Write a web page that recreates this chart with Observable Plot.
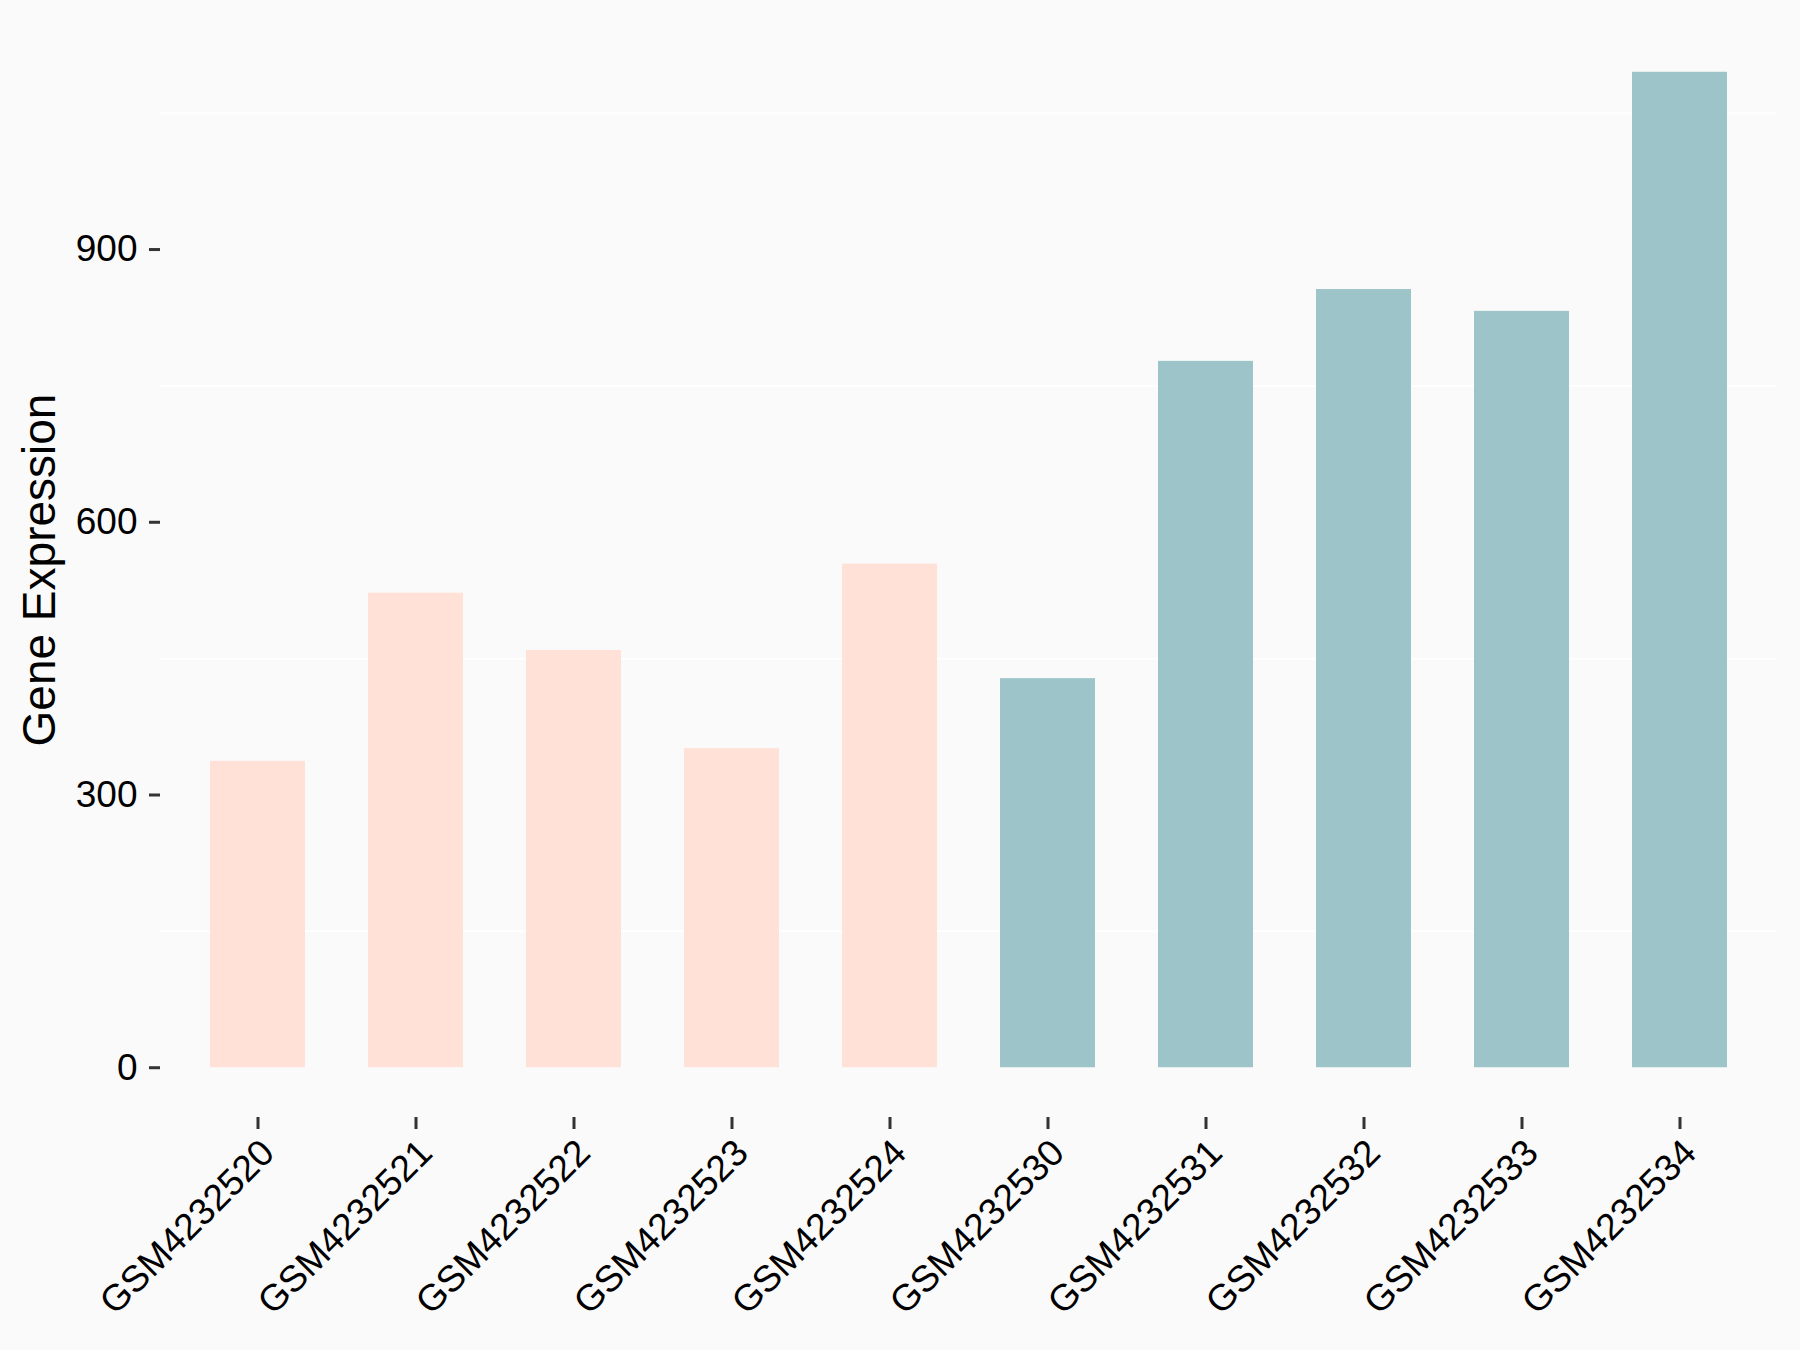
<!DOCTYPE html>
<html>
<head>
<meta charset="utf-8">
<script src="https://cdn.jsdelivr.net/npm/d3@7"></script>
<script src="https://cdn.jsdelivr.net/npm/@observablehq/plot@0.6"></script>
<style>
  html, body { margin: 0; padding: 0; background: #FAFAFA; }
  #chart { width: 1800px; height: 1350px; }
</style>
</head>
<body>
<div id="chart"></div>
<script>
const samples = ["GSM4232520","GSM4232521","GSM4232522","GSM4232523","GSM4232524","GSM4232530","GSM4232531","GSM4232532","GSM4232533","GSM4232534"];
const values = [337, 522, 459, 351, 554, 428, 777, 856, 832, 1095];
const groups = ["A","A","A","A","A","B","B","B","B","B"];
const groupColors = ["#FFE1D7", "#9DC4C8"];
const yTicks = [0, 300, 600, 900];
const minorGrid = [150, 450, 750, 1050];

const data = samples.map((s, i) => ({sample: s, value: values[i], group: groups[i]}));
const ymax = d3.max(values);
const pad = ymax * 0.05;

const chart = Plot.plot({
  width: 1800,
  height: 1350,
  marginLeft: 160,
  marginRight: 23,
  marginTop: 22,
  marginBottom: 233,
  style: {background: "#FAFAFA", fontFamily: "'Liberation Sans', Arial, sans-serif", color: "black"},
  x: {domain: samples, paddingInner: 0.4, paddingOuter: 0.3, label: null},
  y: {domain: [-pad, ymax + pad], label: null},
  color: {domain: ["A","B"], range: groupColors},
  marks: [
    Plot.ruleY(minorGrid, {stroke: "white", strokeWidth: 2}),
    Plot.barY(data, {x: "sample", y: "value", fill: "group"}),
    Plot.axisY(yTicks, {
      tickSize: 11, tickPadding: 12, strokeWidth: 3, stroke: "#333", fill: "black",
      fontSize: 37, label: "Gene Expression", labelAnchor: "center", labelArrow: "none",
      labelOffset: 138
    }),
    Plot.axisX({
      tickSize: 12, strokeWidth: 3, stroke: "#333", fill: "none", label: null
    }),
    Plot.axisX({
      tickSize: 0, tickPadding: 29, dx: 10, fill: "black",
      fontSize: 37, tickRotate: -45, label: null
    })
  ]
});
chart.querySelectorAll("g[aria-label='y-axis label'] text").forEach(t => t.setAttribute("font-size", 46));
document.getElementById("chart").appendChild(chart);
</script>
</body>
</html>
